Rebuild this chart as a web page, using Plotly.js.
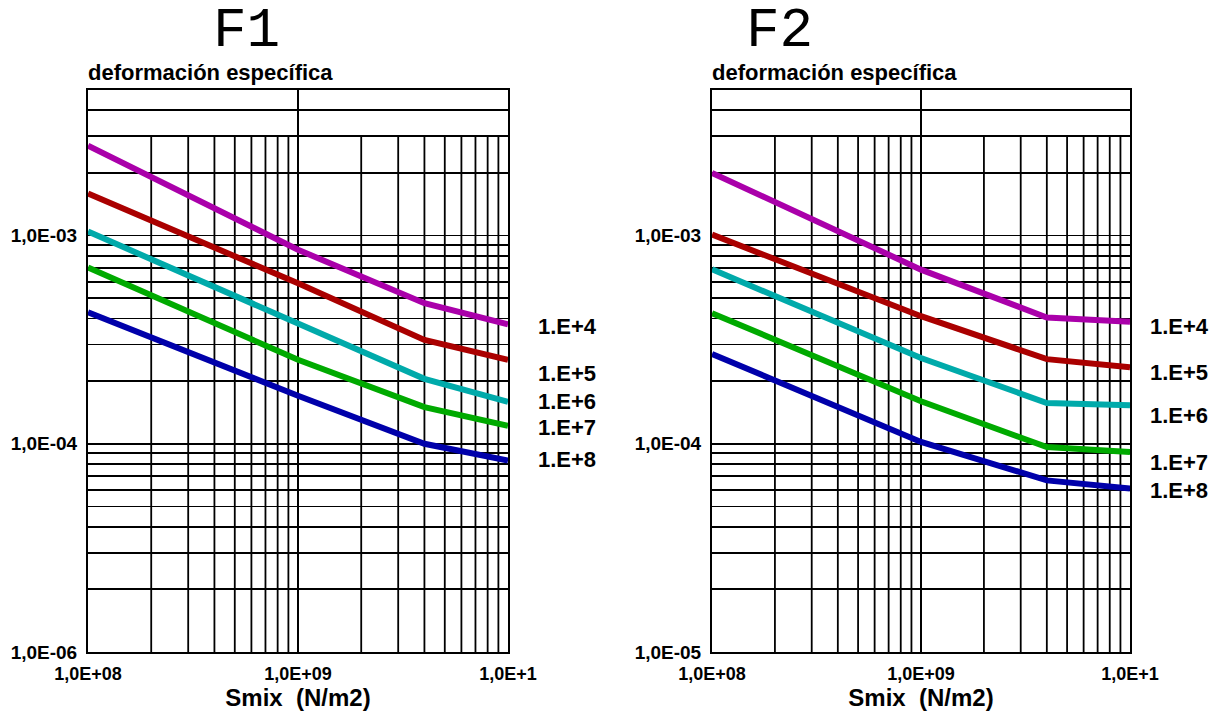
<!DOCTYPE html>
<html>
<head>
<meta charset="utf-8">
<script src="https://cdn.plot.ly/plotly-3.0.1.min.js"></script>
<style>html,body{margin:0;padding:0;background:#fff;}#chart{width:1226px;height:715px;}</style>
</head>
<body>
<div id="chart"></div>
<script>
// ---- data ----
const smix = [1e8, 1e9, 4e9, 1e10];               // Smix (N/m2)
const seriesNames = ['1.E+4', '1.E+5', '1.E+6', '1.E+7', '1.E+8'];
const seriesColors = ['#aa00aa', '#aa0000', '#00aaaa', '#00aa00', '#0000aa'];

// F1 : deformación específica
const f1_e4 = [2.70e-3, 8.55e-4, 4.73e-4, 3.75e-4];
const f1_e5 = [1.59e-3, 5.90e-4, 3.15e-4, 2.53e-4];
const f1_e6 = [1.045e-3, 3.81e-4, 2.05e-4, 1.59e-4];
const f1_e7 = [7.03e-4, 2.53e-4, 1.50e-4, 1.22e-4];
const f1_e8 = [4.28e-4, 1.70e-4, 1.00e-4, 8.3e-5];

// F2 : deformación específica
const f2_e4 = [2.00e-3, 6.86e-4, 4.04e-4, 3.86e-4];
const f2_e5 = [1.01e-3, 4.10e-4, 2.55e-4, 2.33e-4];
const f2_e6 = [6.88e-4, 2.58e-4, 1.57e-4, 1.53e-4];
const f2_e7 = [4.24e-4, 1.60e-4, 9.64e-5, 9.12e-5];
const f2_e8 = [2.70e-4, 1.02e-4, 6.67e-5, 6.10e-5];

const xTickVals = [1e8, 1e9, 1e10];
const xTickText = ['1,0E+08', '1,0E+09', '1,0E+1'];
const yDecades = [1e-5, 1e-4, 1e-3];
const yTickTextF1 = ['1,0E-06', '1,0E-04', '1,0E-03'];
const yTickTextF2 = ['1,0E-05', '1,0E-04', '1,0E-03'];
const panelTitles = ['F1', 'F2'];
const yLabel = 'deformación específica';
const xLabel = 'Smix \u00a0(N/m2)';

// ---- layout helpers ----
const W = 1226, H = 715;
const px = v => v / W, py = v => 1 - v / H;
const yMin = 1e-5, yMax = 5e-3, vGridTop = 3e-3;
const bold = t => (t ? '<b>' + t + '</b>' : '');

// horizontal grid values (1..9 per decade)
function yGrid(texts) {
  const vals = [], txt = [];
  for (let d = -5; d <= -3; d++) {
    for (let k = 1; k <= 9; k++) {
      const v = k * Math.pow(10, d);
      if (v > yMax * 1.0001) continue;
      vals.push(v);
      txt.push(k === 1 ? texts[yDecades.findIndex(q => Math.abs(q - v) / v < 1e-6)] : '');
    }
  }
  return {vals, txt};
}
const g1 = yGrid(yTickTextF1), g2 = yGrid(yTickTextF2);

const boldFont = {family: 'Liberation Sans, Arial, sans-serif', color: '#000', weight: 700};

function xAxis(domain, anchor) {
  return {
    type: 'log', range: [8, 10], domain, anchor,
    tickmode: 'array', tickvals: xTickVals, ticktext: xTickText.map(bold),
    ticks: 'outside', ticklen: 0, ticklabelstandoff: 4,
    tickfont: {...boldFont, size: 18},
    showgrid: true, gridcolor: '#000', gridwidth: 1.8,
    showline: true, mirror: true, linecolor: '#000', linewidth: 2,
    zeroline: false,
    title: {text: bold(xLabel), font: {...boldFont, size: 24}, standoff: 6}
  };
}
function yAxis(domain, anchor, g) {
  return {
    type: 'log', range: [Math.log10(yMin), Math.log10(yMax)], domain, anchor,
    tickmode: 'array', tickvals: g.vals, ticktext: g.txt.map(bold),
    ticks: 'outside', ticklen: 0, ticklabelstandoff: 5,
    tickfont: {...boldFont, size: 19},
    showgrid: true, gridcolor: '#000', gridwidth: 1.8,
    showline: true, mirror: true, linecolor: '#000', linewidth: 2,
    zeroline: false
  };
}

const yDom = [1 - 652 / H, 1 - 90 / H];
const x1Dom = [px(88), px(508)];
const x2Dom = [px(712), px(1130)];

// ---- traces ----
const f1 = [f1_e4, f1_e5, f1_e6, f1_e7, f1_e8];
const f2 = [f2_e4, f2_e5, f2_e6, f2_e7, f2_e8];
const traces = [];
f1.forEach((ys, i) => traces.push({
  x: smix, y: ys, xaxis: 'x', yaxis: 'y', mode: 'lines', name: seriesNames[i],
  line: {color: seriesColors[i], width: 6}, hoverinfo: 'skip', showlegend: false
}));
f2.forEach((ys, i) => traces.push({
  x: smix, y: ys, xaxis: 'x2', yaxis: 'y2', mode: 'lines', name: seriesNames[i],
  line: {color: seriesColors[i], width: 6}, hoverinfo: 'skip', showlegend: false
}));

// minor vertical grid lines (stop at 3E-03 as in the original drawing)
const shapes = [];
[['x', 'y'], ['x2', 'y2']].forEach(([xr, yr]) => {
  for (let d = 8; d <= 9; d++) {
    for (let k = 2; k <= 9; k++) {
      const v = k * Math.pow(10, d);
      shapes.push({type: 'line', xref: xr, yref: yr, x0: v, x1: v, y0: yMin, y1: vGridTop,
        line: {color: '#000', width: 1.8}, layer: 'below'});
    }
  }
});

// ---- annotations ----
const annotations = [];
[[247, 31], [779, 31]].forEach(([x, y], i) => annotations.push({
  xref: 'paper', yref: 'paper', x: px(x), y: py(y), xanchor: 'center', yanchor: 'middle',
  text: panelTitles[i], showarrow: false,
  font: {family: 'Liberation Mono, Courier New, monospace', size: 56, color: '#000'}
}));
[88, 712].forEach(x => annotations.push({
  xref: 'paper', yref: 'paper', x: px(x) - 0.002, y: py(73), xanchor: 'left', yanchor: 'middle',
  text: bold(yLabel), showarrow: false, font: {...boldFont, size: 22}
}));
const labY1 = [326, 373, 401, 427, 459];
const labY2 = [326, 372, 415, 462, 490];
seriesNames.forEach((n, i) => {
  annotations.push({xref: 'paper', yref: 'paper', x: px(567), y: py(labY1[i]), xanchor: 'center', yanchor: 'middle',
    text: bold(n), showarrow: false, font: {...boldFont, size: 22}});
  annotations.push({xref: 'paper', yref: 'paper', x: px(1179), y: py(labY2[i]), xanchor: 'center', yanchor: 'middle',
    text: bold(n), showarrow: false, font: {...boldFont, size: 22}});
});

const layout = {
  width: W, height: H,
  margin: {l: 0, r: 0, t: 0, b: 0},
  paper_bgcolor: '#fff', plot_bgcolor: '#fff',
  showlegend: false,
  xaxis: xAxis(x1Dom, 'y'), yaxis: yAxis(yDom, 'x', g1),
  xaxis2: xAxis(x2Dom, 'y2'), yaxis2: yAxis(yDom, 'x2', g2),
  shapes, annotations
};

Plotly.newPlot('chart', traces, layout, {staticPlot: true, displayModeBar: false});
</script>
</body>
</html>
